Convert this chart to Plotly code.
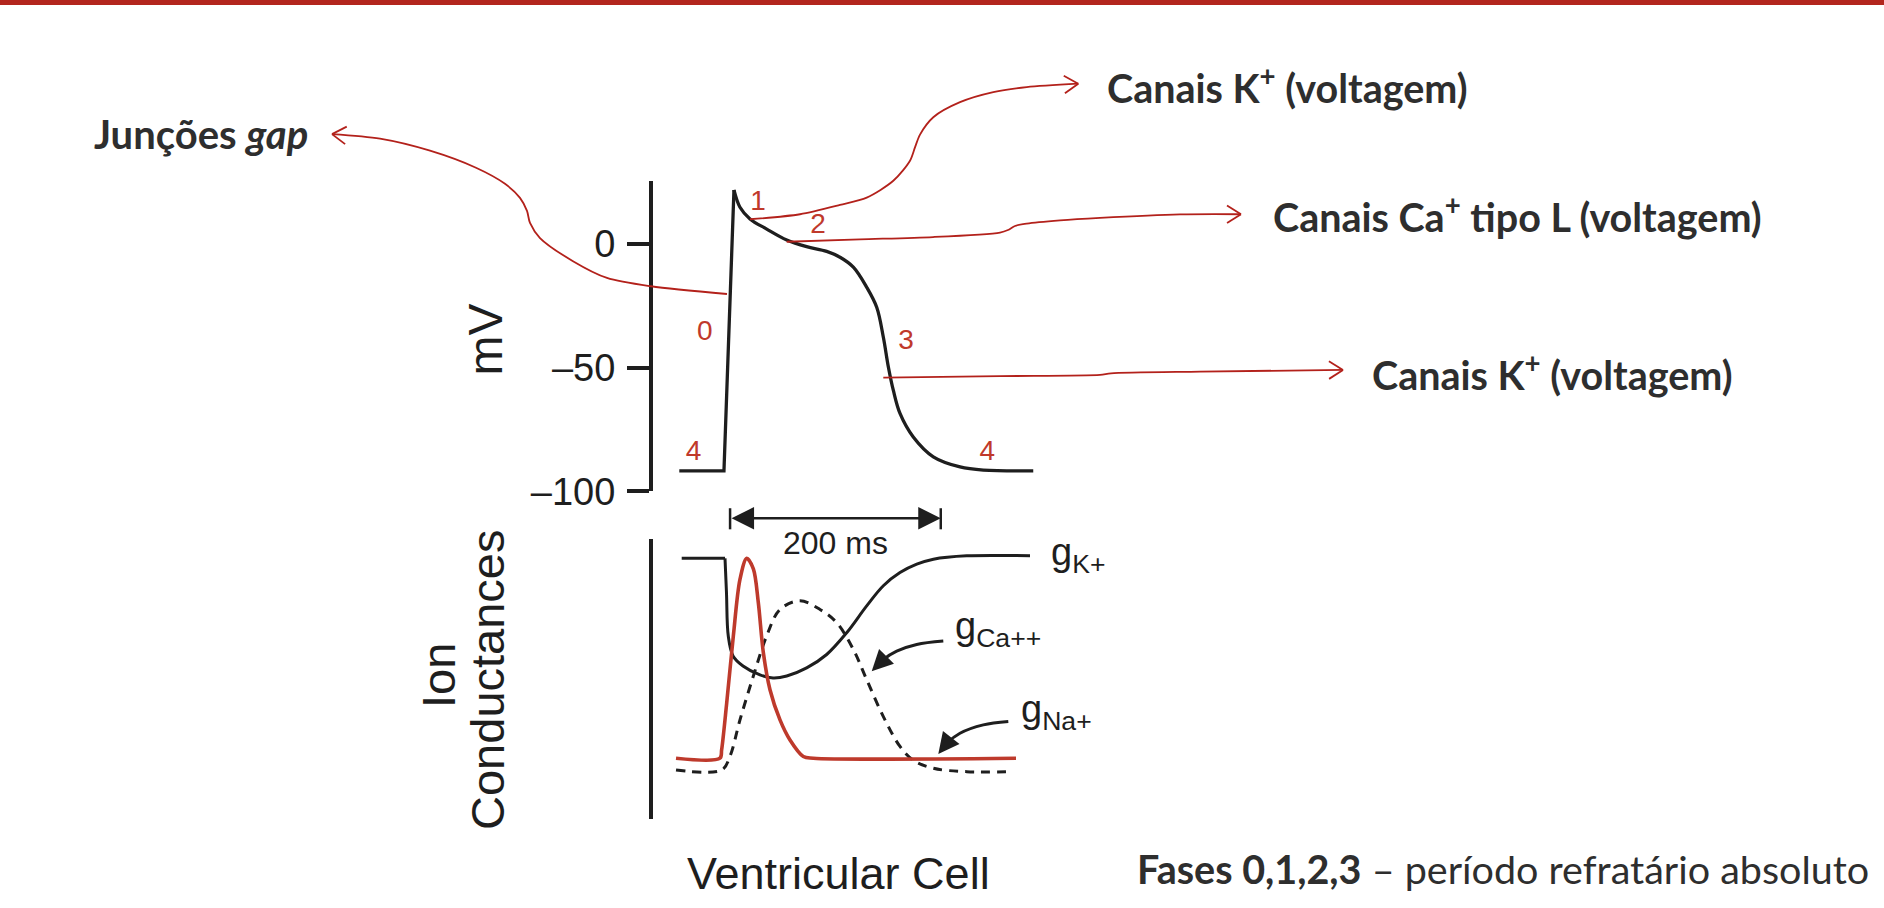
import math
import plotly.graph_objects as go

W = 1884
HM = 908    # reference pixel space used for positioning
HF = 933    # requested figure height (photographing step squeezes height by ~0.973)

# ---------------- data ----------------
# Ventricular action potential: time (ms) vs membrane potential (mV)
ap_up_ms = [27.8, 70.2, 79.7]
ap_up_mv = [-91.7, -91.7, 21.8]
ap_rep_ms = [79.7, 85.4, 94.9, 110.8, 129.8, 148.7, 167.7, 180.4, 193.0, 205.7,
             215.2, 221.5, 226.3, 231.0, 237.3, 249.9, 268.9, 294.3, 316.4, 363.8]
ap_rep_mv = [21.8, 14.8, 10.1, 6.0, 1.6, -1.1, -3.0, -5.4, -9.4, -17.5,
             -25.6, -37.7, -49.8, -59.2, -68.5, -78.0, -86.0, -90.1, -91.4, -91.7]
mv_tickvals = [0, -50, -100]
mv_ticktext = ["0", "–50", "–100"]

phase_text = ["0", "1", "2", "3", "4", "4"]
phase_ms = [52.0, 102.5, 159.4, 243.1, 41.3, 320.1]
phase_mv = [-35.8, 16.7, 7.4, -39.8, -84.4, -84.4]

# Ion conductances (arbitrary units, 0-100)
gk_flat_ms = [30.1, 71.2]
gk_flat = [93.1, 93.1]
gk_ms = [71.2, 72.6, 74.3, 78.8, 88.3, 104.4, 116.8, 129.8, 148.7, 167.7,
         186.7, 205.7, 221.5, 237.3, 253.2, 269.0, 300.6, 360.7]
gk = [93.1, 80.8, 65.3, 58.2, 54.6, 51.4, 50.3, 51.0, 53.9, 58.7,
      66.5, 76.1, 83.3, 88.0, 91.0, 92.8, 94.0, 94.0]
gna_ms = [24.7, 66.4, 68.0, 72.8, 79.1, 85.4, 91.8, 98.1, 102.8, 107.6,
          113.9, 123.4, 132.9, 145.5, 155.0, 347.4]
gna = [21.6, 21.6, 24.6, 41.3, 65.3, 85.6, 93.1, 89.3, 77.3, 59.3,
       46.1, 35.3, 28.1, 22.2, 21.6, 21.6]
gca_ms = [24.7, 68.1, 75.9, 85.4, 98.1, 110.8, 123.4, 142.4, 161.4, 177.2,
          193.0, 205.7, 221.5, 237.3, 249.9, 268.9, 300.6, 341.7]
gca = [17.4, 17.4, 22.3, 35.3, 51.0, 65.4, 74.8, 77.9, 74.8, 70.1,
       60.5, 49.7, 36.5, 25.8, 20.9, 18.0, 16.8, 16.8]

scale_start_ms = 76
scale_len_ms = 200

# ---------------- styling / layout helpers ----------------
PX0 = 650.0        # pixel of t = 0 ms
PXMS = 1.0535      # pixels per ms
XD = (653, 1120)   # x domain in pixels
TOP_YD = (180, 489.3)
BOT_YD = (536.7, 815)

RED = "#b3211b"
PHASE_RED = "#c0392b"
INK = "#1e1e1e"
TXT = "#2e2e2e"
ARIAL = "Arial, Liberation Sans, sans-serif"
CAL = "Lato, Open Sans, sans-serif"


def xdom(a, b):
    return [a / W, b / W]


def ydom(top, bot):
    return [1 - bot / HM, 1 - top / HM]


def py(y):
    return 1 - y / HM


xrange_ms = [(XD[0] - PX0) / PXMS, (XD[1] - PX0) / PXMS]

fig = go.Figure()

# action potential
fig.add_trace(go.Scatter(x=ap_up_ms, y=ap_up_mv, mode="lines",
                         line=dict(color=INK, width=3.3), xaxis="x", yaxis="y"))
fig.add_trace(go.Scatter(x=ap_rep_ms, y=ap_rep_mv, mode="lines",
                         line=dict(color=INK, width=3.3, shape="spline", smoothing=1),
                         xaxis="x", yaxis="y"))
fig.add_trace(go.Scatter(x=phase_ms, y=phase_mv, mode="text", text=phase_text,
                         textfont=dict(family=ARIAL, size=28, color=PHASE_RED),
                         xaxis="x", yaxis="y"))

# conductances
fig.add_trace(go.Scatter(x=gca_ms, y=gca, mode="lines",
                         line=dict(color=INK, width=3, dash="9px,7px", shape="spline", smoothing=1),
                         xaxis="x2", yaxis="y2"))
fig.add_trace(go.Scatter(x=gk_flat_ms, y=gk_flat, mode="lines",
                         line=dict(color=INK, width=3), xaxis="x2", yaxis="y2"))
fig.add_trace(go.Scatter(x=gk_ms, y=gk, mode="lines",
                         line=dict(color=INK, width=3, shape="spline", smoothing=1),
                         xaxis="x2", yaxis="y2"))
fig.add_trace(go.Scatter(x=gna_ms, y=gna, mode="lines",
                         line=dict(color="#be3a2c", width=3.6, shape="spline", smoothing=0.9),
                         xaxis="x2", yaxis="y2"))

# ---------------- pixel overlay: leader lines ----------------
leaders = [
    # Junções gap
    ([727, 651, 607, 573, 540, 530, 527, 520, 505, 476, 430, 380, 332],
     [292.7, 285, 276.7, 260, 237, 222, 210, 197, 183, 167, 150, 138, 133.5]),
    # Canais K+ (phase 1)
    ([750, 800, 840, 866.7, 893.3, 910, 915, 920, 933.3, 960, 993.3, 1026.7, 1078.3],
     [218.3, 213.3, 204, 196.7, 180, 160, 146.7, 134, 116.7, 101.7, 91.7, 86.7, 83.3]),
    # Canais Ca+ tipo L (phase 2)
    ([786.7, 860, 933, 1000, 1008, 1015, 1026.7, 1060, 1100, 1180, 1241],
     [240.7, 238.3, 236, 231.5, 229, 225, 222.7, 219.5, 217, 213.5, 213.3]),
    # Canais K+ (phase 3)
    ([883.3, 1000, 1100, 1111, 1200, 1343],
     [376, 374.5, 373.3, 371.7, 370, 368.3]),
]
for lx, ly in leaders:
    fig.add_trace(go.Scatter(x=lx, y=ly, mode="lines",
                             line=dict(color=RED, width=1.8, shape="spline", smoothing=0.8),
                             xaxis="x3", yaxis="y3"))
    dx, dy = lx[-1] - lx[-2], ly[-1] - ly[-2]
    n = math.hypot(dx, dy)
    ux, uy = dx / n, dy / n
    L, ang = 16.5, math.radians(32)
    hx, hy = [], []
    for s in (1, -1):
        ca, sa = math.cos(s * ang), math.sin(s * ang)
        rx, ry = -(ux * ca - uy * sa), -(ux * sa + uy * ca)
        hx += [lx[-1] + L * rx, lx[-1], None]
        hy += [ly[-1] + L * ry, ly[-1], None]
    fig.add_trace(go.Scatter(x=hx, y=hy, mode="lines", line=dict(color=RED, width=1.8),
                             xaxis="x3", yaxis="y3"))

# black curved pointers for gCa++ and gNa+
pointers = [
    ([943.3, 916.7, 896.7, 883.3, 875], [638.3, 641.7, 648.3, 656.7, 665]),
    ([1008.3, 983.3, 960, 946.7, 941], [718.3, 721.7, 730, 740, 747]),
]
pointer_tips = [(871.7, 668.3), (938.3, 750.7)]
for (lx, ly) in pointers:
    fig.add_trace(go.Scatter(x=lx, y=ly, mode="lines",
                             line=dict(color=INK, width=3, shape="spline", smoothing=1),
                             xaxis="x3", yaxis="y3"))

annotations = []
for (tx, ty), (lx, ly) in zip(pointer_tips, pointers):
    annotations.append(dict(x=tx, y=ty, xref="x3", yref="y3", ax=lx[-2], ay=ly[-2],
                            axref="x3", ayref="y3", text="", showarrow=True,
                            arrowhead=2, arrowsize=1.4, arrowwidth=3, arrowcolor=INK,
                            standoff=0, startstandoff=0))

# scale bar 200 ms
bar_y = py(516)
annotations.append(dict(x=scale_start_ms + scale_len_ms, y=bar_y, xref="x2", yref="paper",
                        ax=scale_start_ms, ay=0, axref="x2", ayref="pixel", text="",
                        showarrow=True, arrowside="end+start", arrowhead=2, arrowsize=1.8,
                        arrowwidth=2.5, arrowcolor=INK, standoff=0, startstandoff=0))
annotations.append(dict(x=scale_start_ms + scale_len_ms / 2, y=py(541), xref="x2", yref="paper",
                        text="200 ms", showarrow=False,
                        font=dict(family=ARIAL, size=32, color=INK)))

shapes = [
    dict(type="rect", xref="paper", yref="paper", x0=0, x1=1, y0=py(5), y1=1,
         fillcolor="#b3261e", line=dict(width=0)),
]
for t in (scale_start_ms, scale_start_ms + scale_len_ms):
    shapes.append(dict(type="line", xref="x2", yref="paper", x0=t, x1=t,
                       y0=py(506), y1=py(527), line=dict(color=INK, width=2.5)))


def px_text(x, y, text, size, family=ARIAL, color=TXT, xanchor="left", angle=0):
    annotations.append(dict(x=x, y=y, xref="x3", yref="y3", text=text, showarrow=False,
                            xanchor=xanchor, yanchor="middle", textangle=angle,
                            font=dict(family=family, size=size, color=color)))


# axis titles
px_text(485, 338, "mV", 48, color=INK, xanchor="center", angle=-90)
px_text(439, 673, "Ion", 47, color=INK, xanchor="center", angle=-90)
px_text(488, 677, "Conductances", 47, color=INK, xanchor="center", angle=-90)
px_text(838, 870, "Ventricular Cell", 45, color=INK, xanchor="center")

# conductance labels
px_text(1049, 553, "g<sub>K+</sub>", 38, color=INK)
px_text(953, 626, "g<sub>Ca++</sub>", 38, color=INK)
px_text(1019, 709, "g<sub>Na+</sub>", 38, color=INK)

# Portuguese annotations
px_text(1105, 85, "<b>Canais K<sup>+</sup> (voltagem)</b>", 39.5, family=CAL)
px_text(1271, 213, "<b>Canais Ca<sup>+</sup> tipo L (voltagem)</b>", 39.5, family=CAL)
px_text(1370, 370, "<b>Canais K<sup>+</sup> (voltagem)</b>", 39.5, family=CAL)
px_text(92, 133, "<b>Junções <i>gap</i></b>", 40, family=CAL)
px_text(1135, 865, "<b>Fases 0,1,2,3</b> – período refratário absoluto", 39.5, family=CAL)

hidden = dict(visible=False, showgrid=False, zeroline=False, fixedrange=True)

fig.update_layout(
    width=W, height=HF, autosize=False,
    margin=dict(l=0, r=0, t=0, b=0, pad=0),
    paper_bgcolor="white", plot_bgcolor="rgba(0,0,0,0)",
    showlegend=False,
    xaxis=dict(domain=xdom(*XD), range=xrange_ms, anchor="y", **hidden),
    yaxis=dict(domain=ydom(*TOP_YD), range=[-100, 25.5], anchor="x",
               showline=True, linewidth=4, linecolor=INK, mirror=False,
               ticks="outside", ticklen=22, tickwidth=4, tickcolor=INK,
               tickvals=mv_tickvals, ticktext=mv_ticktext,
               tickfont=dict(family=ARIAL, size=38, color=INK),
               ticklabelstandoff=4,
               showgrid=False, zeroline=False, fixedrange=True),
    xaxis2=dict(domain=xdom(*XD), range=xrange_ms, anchor="y2", **hidden),
    yaxis2=dict(domain=ydom(*BOT_YD), range=[0, 100], anchor="x2",
                showline=True, linewidth=4, linecolor=INK, ticks="",
                showticklabels=False, showgrid=False, zeroline=False, fixedrange=True),
    xaxis3=dict(domain=[0, 1], range=[0, W], anchor="y3", **hidden),
    yaxis3=dict(domain=[0, 1], range=[HM, 0], anchor="x3", **hidden),
    annotations=annotations,
    shapes=shapes,
)

fig.write_html("out.html", config={"displayModeBar": False},
               post_script="document.body.style.margin='0';document.body.style.overflow='hidden';")
